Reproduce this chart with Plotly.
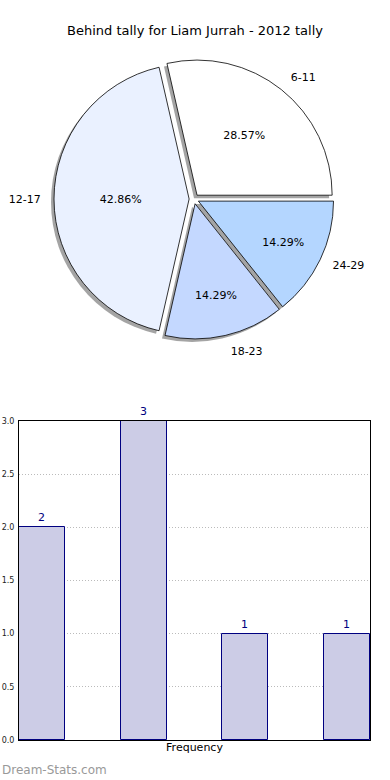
import plotly.graph_objects as go

# ---- data ----
pie_labels = ["6-11", "12-17", "18-23", "24-29"]
pie_values = [2, 3, 1, 1]
pie_colors = ["#FFFFFF", "#EAF1FF", "#C4D8FF", "#B4D6FF"]

bar_positions = [0, 1, 2, 3]
bar_values = [2, 3, 1, 1]
bar_text = ["2", "3", "1", "1"]

title_text = "Behind tally for Liam Jurrah - 2012 tally"
font_family = "DejaVu Sans"

W, H = 390, 780
pull = 0.036

# pie domain in pixels
px0, px1 = 54, 334
py0, py1 = 59, 339
sh = 3    # shadow offset (px)
lab = 10  # extra radius for the outside-label layer (px)

def xdom(a, b):
    return [a / W, b / W]

def ydom(a, b):
    return [1 - b / H, 1 - a / H]

# matplotlib draws counterclockwise from 3 o'clock; equivalently clockwise
# from 3 o'clock with reversed order
lab_r = pie_labels[::-1]
val_r = pie_values[::-1]
col_r = pie_colors[::-1]

fig = go.Figure()

common = dict(labels=lab_r, values=val_r, sort=False,
              direction="clockwise", rotation=90, pull=pull, showlegend=False)

# shadow
fig.add_trace(go.Pie(
    **common,
    marker=dict(colors=["rgba(90,90,90,0.55)"] * 4, line=dict(width=0)),
    textinfo="none", hoverinfo="skip",
    domain=dict(x=xdom(px0 - sh, px1 - sh), y=ydom(py0 + sh, py1 + sh)),
))

# main pie with percentages inside
fig.add_trace(go.Pie(
    **common,
    marker=dict(colors=col_r, line=dict(color="#000000", width=0.8)),
    texttemplate="%{percent:.2%}", textposition="inside",
    insidetextorientation="horizontal",
    textfont=dict(family=font_family, size=11, color="#000000"),
    domain=dict(x=xdom(px0, px1), y=ydom(py0, py1)),
))

# outside labels (transparent, slightly larger layer)
fig.add_trace(go.Pie(
    **common,
    marker=dict(colors=["rgba(0,0,0,0)"] * 4, line=dict(width=0)),
    texttemplate="%{label}", textposition="outside",
    textfont=dict(family=font_family, size=11, color="#000000"),
    hoverinfo="skip", automargin=False,
    domain=dict(x=xdom(px0 - lab, px1 + lab), y=ydom(py0 - lab, py1 + lab)),
))

# bars
fig.add_trace(go.Bar(
    x=bar_positions, y=bar_values, text=bar_text,
    width=0.45, offset=0,
    marker=dict(color="#CCCCE6", line=dict(color="#000080", width=1)),
    textposition="outside", cliponaxis=False,
    textfont=dict(family=font_family, size=11, color="#000080"),
    showlegend=False,
))

fig.update_layout(
    width=W, height=H,
    margin=dict(l=0, r=0, t=0, b=0, pad=0, autoexpand=False),
    paper_bgcolor="white", plot_bgcolor="white",
    font=dict(family=font_family, color="#000000"),
    title=dict(text=title_text, x=0.5, xanchor="center", y=1 - 30 / H,
               yanchor="middle", font=dict(family=font_family, size=13, color="#000000")),
    xaxis=dict(
        domain=xdom(19, 370), range=[0, 3.45],
        showticklabels=False, ticks="", showgrid=False, zeroline=False,
        showline=True, linecolor="#000000", linewidth=1, mirror=True,
        title=dict(text="Frequency", font=dict(family=font_family, size=11, color="#000000"),
                   standoff=3),
        automargin=False,
    ),
    yaxis=dict(
        domain=ydom(421, 740), range=[0, 3], dtick=0.5, tickformat=".1f",
        tickfont=dict(family=font_family, size=8, color="#222222"),
        showgrid=True, gridcolor="#BBBBBB", griddash="1px,2px", gridwidth=1,
        zeroline=False, showline=True, linecolor="#000000", linewidth=1, mirror=True,
        ticks="", ticklabelstandoff=2, automargin=False,
    ),
    bargap=0,
    annotations=[dict(
        text="Dream-Stats.com", xref="paper", yref="paper",
        x=0, y=1 - 770 / H, xanchor="left", yanchor="middle", showarrow=False,
        font=dict(family=font_family, size=12, color="#999999"),
    )],
)

fig.write_html(
    "out.html",
    config={"displayModeBar": False},
    post_script=(
        "document.documentElement.style.margin='0';"
        "document.documentElement.style.overflow='hidden';"
        "document.body.style.margin='0';document.body.style.padding='0';"
        "document.body.style.overflow='hidden';"
    ),
)
